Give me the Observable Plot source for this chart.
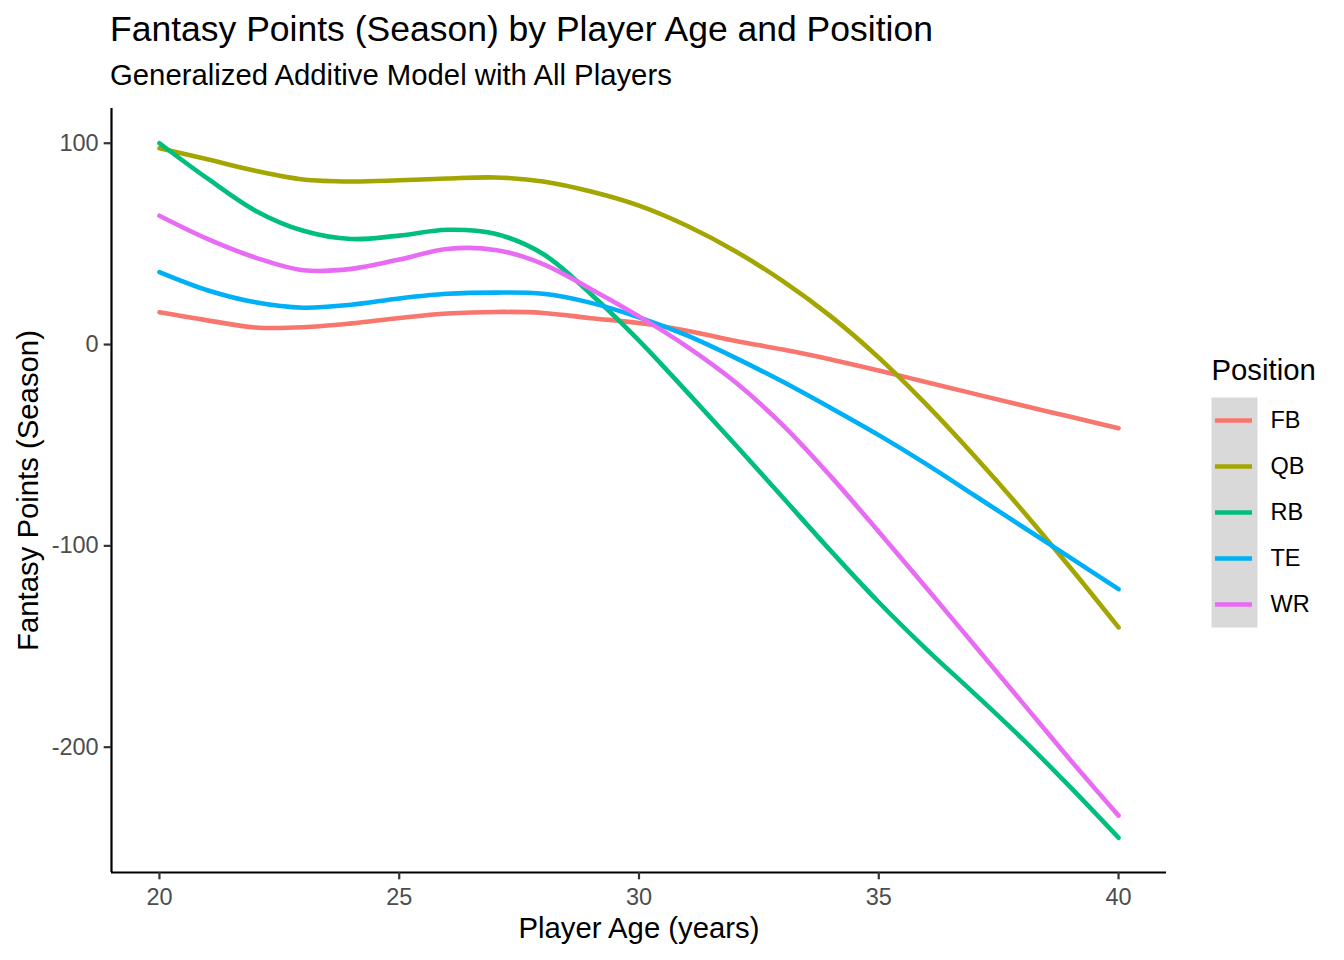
<!DOCTYPE html>
<html><head><meta charset="utf-8">
<script src="https://cdn.jsdelivr.net/npm/d3@7"></script>
<script src="https://cdn.jsdelivr.net/npm/@observablehq/plot@0.6"></script>
<style>
html,body{margin:0;padding:0;background:#fff;}
#wrap{position:relative;width:1344px;height:960px;overflow:hidden;font-family:"Liberation Sans",Arial,Helvetica,sans-serif;}
.t{position:absolute;white-space:nowrap;line-height:1;color:#000;}
</style></head><body>
<div id="wrap">
<div class="t" id="title" style="left:110px;top:12px;font-size:35.5px">Fantasy Points (Season) by Player Age and Position</div>
<div class="t" id="subtitle" style="left:110px;top:60px;font-size:29.3px">Generalized Additive Model with All Players</div>
<div id="chart" style="position:absolute;left:0;top:95px"></div>
<div id="legend" style="position:absolute;left:1200px;top:339px"></div>
</div>
<script>
// ---- data ----
const ages = [20,21,22,23,24,25,26,27,28,29,30,31,32,33,34,35,36,37,38,39,40];
const positions = ["FB","QB","RB","TE","WR"];
const colors = ["#F8766D","#A3A500","#00BF7D","#00B0F6","#E76BF3"];
const fb = [16,12,8.5,8.6,10.5,13.2,15.4,16.2,15.7,13.1,10.7,6.9,1.9,-2.5,-7.4,-12.9,-18.7,-24.5,-30.3,-35.9,-41.6];
const qb = [97.5,92,86.3,82,81,81.6,82.5,83,81,76,69,59,46.5,31.5,14,-6.5,-30,-55.5,-82.5,-111,-140.5];
const rb = [100,82.5,66.5,56.5,52.4,54.1,57,55,45,25,2,-23.5,-49.5,-76,-102.5,-128,-151.5,-173.5,-196,-220,-245];
const te = [36,27,21,18.3,19.8,22.9,25.2,25.8,25.2,20.7,13.5,4.5,-6.5,-18.5,-31.5,-45,-59.5,-75,-90.5,-106,-121.5];
const wr = [64,52.5,43.2,36.9,37.6,42.2,47.5,47,40,27.5,14,-1,-18.5,-40,-65.5,-93,-121,-149.5,-178,-206.5,-234];
const xTicks = [20,25,30,35,40];
const yTicks = [-200,-100,0,100];
const titleX = "Player Age (years)";
const titleY = "Fantasy Points (Season)";
const legendTitle = "Position";

// ---- build tidy table ----
const series = {FB: fb, QB: qb, RB: rb, TE: te, WR: wr};
const data = [];
for (const p of positions) series[p].forEach((v, i) => data.push({age: ages[i], value: v, position: p}));

// ggplot-like 5% expansion
const xMin = d3.min(ages), xMax = d3.max(ages);
const yMin = d3.min(data, d => d.value), yMax = d3.max(data, d => d.value);
const xPad = (xMax - xMin) * 0.05, yPad = (yMax - yMin) * 0.05;
const xDomain = [xMin - xPad, xMax + xPad];
const yDomain = [yMin - yPad, yMax + yPad];

const font = '"Liberation Sans", Arial, Helvetica, sans-serif';

const chart = Plot.plot({
  width: 1344,
  height: 865,
  marginLeft: 111,
  marginRight: 178,
  marginTop: 13,
  marginBottom: 88,
  style: {fontFamily: font, background: "white", overflow: "visible"},
  x: {domain: xDomain},
  y: {domain: yDomain},
  color: {domain: positions, range: colors},
  marks: [
    Plot.line(data, {x: "age", y: "value", stroke: "position", z: "position", curve: "catmull-rom", strokeWidth: 4.6}),
    Plot.ruleX([xDomain[0]], {stroke: "black", strokeWidth: 2.2}),
    Plot.ruleY([yDomain[0]], {stroke: "black", strokeWidth: 2.2}),
    Plot.axisX({ticks: xTicks, tickFormat: d => String(d), tickSize: 7.3, tickPadding: 9, fontSize: 23.5, fill: "#4D4D4D", stroke: "#333333", strokeWidth: 2.2, label: null}),
    Plot.axisY({ticks: yTicks, tickFormat: d => String(d), tickSize: 7.3, tickPadding: 5.5, fontSize: 23.5, fill: "#4D4D4D", stroke: "#333333", strokeWidth: 2.2, label: null}),
    Plot.text([titleX], {frameAnchor: "bottom", lineAnchor: "bottom", textAnchor: "middle", dy: 65, fontSize: 29.3, fill: "black"}),
    Plot.text([titleY], {frameAnchor: "left", lineAnchor: "bottom", textAnchor: "middle", rotate: -90, dx: -74, fontSize: 29.3, fill: "black"})
  ]
});
document.getElementById("chart").appendChild(chart);

// ---- legend as a small Plot ----
const legend = Plot.plot({
  width: 144,
  height: 300,
  marginLeft: 15,
  marginRight: 92,
  marginTop: 58,
  marginBottom: 12,
  style: {fontFamily: font, background: "white", overflow: "visible"},
  y: {type: "band", domain: positions, padding: 0, axis: null},
  color: {domain: positions, range: colors},
  marks: [
    Plot.frame({fill: "#D9D9D9", stroke: null, insetLeft: -4, insetRight: -5}),
    Plot.ruleY(positions, {y: d => d, stroke: d => d, strokeWidth: 4.6}),
    Plot.text(positions, {y: d => d, text: d => d, frameAnchor: "right", textAnchor: "start", dx: 18, fontSize: 23.5, fill: "black"}),
    Plot.text([legendTitle], {frameAnchor: "top-left", textAnchor: "start", lineAnchor: "bottom", dx: -4, dy: -18, fontSize: 29.3, fill: "black"})
  ]
});
document.getElementById("legend").appendChild(legend);
</script>
</body></html>
